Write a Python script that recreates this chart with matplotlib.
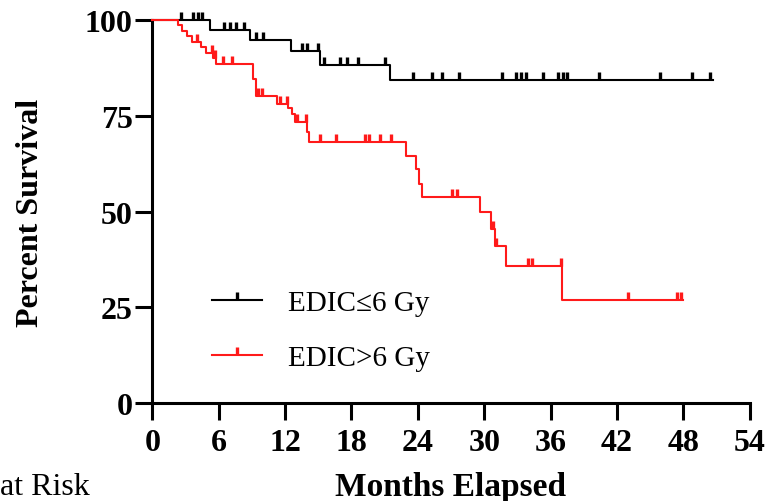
import numpy as np
import matplotlib
matplotlib.use("Agg")
import matplotlib.pyplot as plt
from matplotlib.path import Path
from matplotlib.lines import Line2D

# Kaplan-Meier steps (months, percent)
low_times = [0, 5.2, 8.8, 12.5, 15.2, 21.5, 50.7]
low_surv = [100, 97.5, 94.7, 91.8, 88.4, 84.3, 84.3]
low_censor = [2.6, 3.7, 4.1, 4.5, 6.5, 7.0, 7.6, 8.3, 9.4, 10.0, 13.5, 14.0,
              15.0, 15.5, 17.0, 17.6, 18.6, 21.0, 23.6, 25.3, 26.2, 27.7,
              31.6, 32.9, 33.3, 33.8, 35.3, 36.7, 37.1, 37.5, 40.4, 45.9,
              48.8, 50.4]

high_times = [0, 2.3, 2.7, 3.1, 3.6, 4.4, 4.9, 5.5, 5.8, 9.1, 9.4, 11.3, 12.3,
              12.6, 12.9, 14.0, 14.2, 22.9, 23.8, 24.1, 24.4, 29.6, 30.6,
              31.0, 32.0, 37.0, 48.0]
high_surv = [100, 98.6, 97.2, 95.8, 94.4, 93.0, 91.5, 90.0, 88.6, 84.5, 80.2,
             78.1, 77.0, 75.5, 73.3, 70.7, 68.3, 64.4, 61.0, 57.2, 53.7, 49.8,
             45.5, 41.1, 35.8, 26.8, 26.8]
high_censor = [4.0, 5.4, 5.7, 6.4, 7.2, 9.6, 9.9, 11.5, 12.2, 13.1, 13.9,
               15.2, 16.6, 19.2, 19.6, 20.6, 21.6, 27.1, 27.5, 30.8, 31.1,
               34.0, 34.3, 36.9, 43.0, 47.4, 47.8]

labels = ["EDIC\u22646 Gy", "EDIC>6 Gy"]
colors = ["black", "#ff1a1a"]
x_ticks = [0, 6, 12, 18, 24, 30, 36, 42, 48, 54]
y_ticks = [0, 25, 50, 75, 100]

SERIF = ["Liberation Serif", "DejaVu Serif"]
plt.rcParams["font.family"] = SERIF

# censor tick: short vertical stroke going up from the line
up_tick = Path([(0, 0), (0, 1)], [Path.MOVETO, Path.LINETO])


def level_at(times, surv, t):
    idx = np.searchsorted(times, t, side="right") - 1
    return np.array(surv)[idx]


fig = plt.figure(figsize=(7.69, 5.02), dpi=100)
ax = fig.add_axes([0.198, 0.195, 0.777, 0.763])

groups = [(low_times, low_surv, low_censor), (high_times, high_surv, high_censor)]
for (t, s, c), col in zip(groups, colors):
    ax.step(t, s, where="post", color=col, lw=1.5, clip_on=False, zorder=3)
    ax.plot(c, level_at(t, s, c), ls="none", marker=up_tick, ms=11,
            mew=2.4, color=col, clip_on=False, zorder=4)

ax.set_xlim(0, 54)
ax.set_ylim(0, 100)
ax.set_xticks(x_ticks)
ax.set_yticks(y_ticks)
for side in ["top", "right"]:
    ax.spines[side].set_visible(False)
for side in ["left", "bottom"]:
    ax.spines[side].set_linewidth(2.2)
ax.tick_params(axis="both", direction="out", length=12, width=2.2,
               labelsize=23)
ax.tick_params(axis="x", pad=6)
ax.tick_params(axis="y", pad=2)
for lab in ax.get_xticklabels() + ax.get_yticklabels():
    lab.set_fontweight("bold")

ax.set_ylabel("Percent Survival", fontsize=23, fontweight="bold", labelpad=29)
ax.set_xlabel("Months Elapsed", fontsize=24, fontweight="bold", labelpad=10)
fig.text(0.0, 0.0, "at Risk", fontsize=23, ha="left", va="bottom")

handles = [Line2D([0], [0], color=col, lw=1.5, marker=up_tick, ms=11, mew=2.4)
           for col in colors]
ax.legend(handles, labels, loc="upper left", bbox_to_anchor=(0.1, 0.297),
          frameon=False, fontsize=21, handlelength=1.7, handletextpad=0.9,
          labelspacing=1.0, borderpad=0, borderaxespad=0, numpoints=1)

fig.savefig("out.png", dpi=100)
